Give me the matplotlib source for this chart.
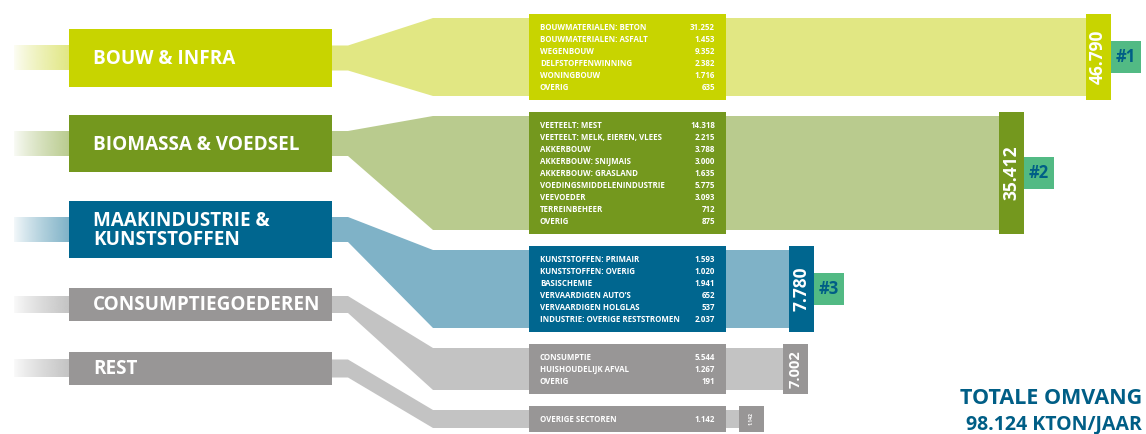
import numpy as np
import matplotlib.pyplot as plt
from matplotlib.patches import Rectangle, Polygon

# Data
categories = ['BOUW & INFRA', 'BIOMASSA & VOEDSEL', 'MAAKINDUSTRIE &\nKUNSTSTOFFEN',
              'CONSUMPTIEGOEDEREN', 'REST']
totals = [46790, 35412, 7780, 7002, 1142]
ranks = ['#1', '#2', '#3', None, None]
detail_labels = [
    ['BOUWMATERIALEN: BETON', 'BOUWMATERIALEN: ASFALT', 'WEGENBOUW',
     'DELFSTOFFENWINNING', 'WONINGBOUW', 'OVERIG'],
    ['VEETEELT: MEST', 'VEETEELT: MELK, EIEREN, VLEES', 'AKKERBOUW',
     'AKKERBOUW: SNIJMAIS', 'AKKERBOUW: GRASLAND', 'VOEDINGSMIDDELENINDUSTRIE',
     'VEEVOEDER', 'TERREINBEHEER', 'OVERIG'],
    ['KUNSTSTOFFEN: PRIMAIR', 'KUNSTSTOFFEN: OVERIG', 'BASISCHEMIE',
     'VERVAARDIGEN AUTO\u2019S', 'VERVAARDIGEN HOLGLAS', 'INDUSTRIE: OVERIGE RESTSTROMEN'],
    ['CONSUMPTIE', 'HUISHOUDELIJK AFVAL', 'OVERIG'],
    ['OVERIGE SECTOREN'],
]
detail_values = [
    [31252, 1453, 9352, 2382, 1716, 635],
    [14318, 2215, 3788, 3000, 1635, 5775, 3093, 712, 875],
    [1593, 1020, 1941, 652, 537, 2037],
    [5544, 1267, 191],
    [1142],
]
total_all = 98124

# Styling
dark = ['#C8D400', '#74981E', '#00668F', '#989696', '#989696']
light = ['#E1E783', '#B9CB8E', '#7FB2C7', '#C3C3C3', '#C3C3C3']
rank_color = '#52BA84'
navy = '#005E86'
font = 'Open Sans'

# Layout of the category boxes (pixels)
cat_top = [29, 115, 201, 288, 352]
cat_h = [58, 57, 57, 33, 33]
band_half = [12.5, 12.5, 12.5, 8.5, 9]


def fmt(v):
    return f'{v:,}'.replace(',', '.')


fig = plt.figure(figsize=(11.46, 4.34), dpi=100)
ax = fig.add_axes([0, 0, 1, 1])
ax.set_xlim(0, 1146)
ax.set_ylim(434, 0)
ax.axis('off')

det_top = 14
for i, cat in enumerate(categories):
    n = len(detail_labels[i])
    det_h = 12 * n + 14
    det_bot = det_top + det_h
    cy = cat_top[i] + cat_h[i] / 2
    bt, bb = cy - band_half[i], cy + band_half[i]
    dt, db = det_top + 4, det_bot - 4
    # bar end scales with the total
    tot_x = 730 + 0.0076 * totals[i]

    # left gradient band
    grad = np.zeros((1, 100, 4))
    grad[..., :3] = plt.matplotlib.colors.to_rgb(light[i])
    grad[..., 3] = np.linspace(0.05, 1, 100) ** 0.8
    ax.imshow(grad, extent=(14, 70, bb, bt), aspect='auto', zorder=1)

    # flow to the detail box and on to the total box
    pts = [(300, bt), (348, bt), (433, dt), (tot_x + 1, dt),
           (tot_x + 1, db), (433, db), (348, bb), (300, bb)]
    ax.add_patch(Polygon(pts, closed=True, facecolor=light[i], edgecolor='none', zorder=1))

    # category box
    ax.add_patch(Rectangle((69, cat_top[i]), 263, cat_h[i], facecolor=dark[i],
                           edgecolor='none', zorder=2))
    ax.text(93, cy + 1, cat, color='white', fontsize=13.6, fontweight='bold', family=font,
            va='center', ha='left', linespacing=0.92, zorder=3)

    # detail box
    ax.add_patch(Rectangle((529, det_top), 197, det_h, facecolor=dark[i],
                           edgecolor='none', zorder=2))
    for j, (lab, val) in enumerate(zip(detail_labels[i], detail_values[i])):
        y = det_top + 13.5 + 12 * j
        ax.text(540, y, lab, color='white', fontsize=5.7, fontweight='bold', family=font,
                va='center', ha='left', zorder=3)
        ax.text(715, y, fmt(val), color='white', fontsize=5.7, fontweight='bold', family=font,
                va='center', ha='right', zorder=3)

    # total box
    ax.add_patch(Rectangle((tot_x, det_top), 25, det_h, facecolor=dark[i],
                           edgecolor='none', zorder=2))
    mid = det_top + det_h / 2
    if det_h > 80:
        fs = 12.5
    elif det_h > 40:
        fs = 10.5
    else:
        fs = 3.6
    ax.text(tot_x + 12.5, mid, fmt(totals[i]), color='white', rotation=90,
            fontsize=fs, fontweight='bold', family=font,
            va='center', ha='center', zorder=3)

    # rank tag
    if ranks[i]:
        ax.add_patch(Rectangle((tot_x + 25, mid - 16), 30, 32, facecolor=rank_color,
                               edgecolor='none', zorder=2))
        ax.text(tot_x + 40, mid, ranks[i], color=navy, fontsize=12, fontweight='bold',
                family=font, va='center', ha='center', zorder=3)

    det_top = det_bot + 12

ax.text(1142, 398, 'TOTALE OMVANG', color=navy, fontsize=15.5, fontweight='bold',
        family=font, ha='right', va='center')
ax.text(1142, 424, f'{fmt(total_all)} KTON/JAAR', color=navy, fontsize=14, fontweight='bold',
        family=font, ha='right', va='center')

fig.savefig('out.png', dpi=100)
